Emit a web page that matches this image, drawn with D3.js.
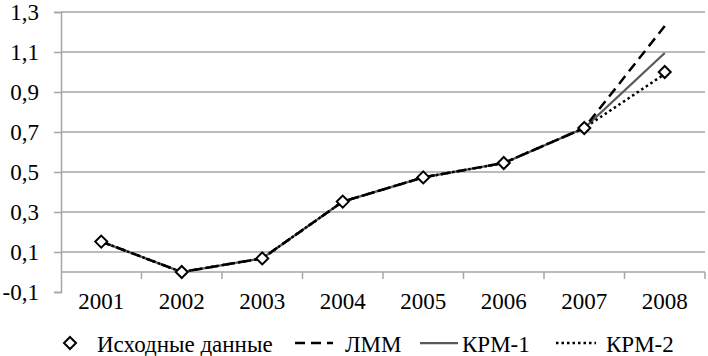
<!DOCTYPE html>
<html><head><meta charset="utf-8">
<script src="https://cdn.jsdelivr.net/npm/d3@7"></script>
<style>body{margin:0;background:#fff}svg{display:block}text{font-family:"Times New Roman","Liberation Serif",serif}</style>
</head><body>
<svg id="c" width="708" height="356"></svg>
<script>
const years = ["2001","2002","2003","2004","2005","2006","2007","2008"];
const dataVals = [0.152, 0.0, 0.068, 0.352, 0.473, 0.545, 0.72, 1.0];
const lmmVals  = [0.152, 0.0, 0.068, 0.352, 0.473, 0.545, 0.72, 1.23];
const krm1Vals = [0.152, 0.0, 0.068, 0.352, 0.473, 0.545, 0.72, 1.095];
const krm2Vals = [0.152, 0.0, 0.068, 0.352, 0.473, 0.545, 0.72, 0.99];
const yTicks = [-0.1, 0.1, 0.3, 0.5, 0.7, 0.9, 1.1, 1.3];
const legendLabels = ["Исходные данные", "ЛММ", "КРМ-1", "КРМ-2"];

const FS = 23;
const svg = d3.select("#c");
const x = d3.scaleBand().domain(years).range([61, 705]);
const y = d3.scaleLinear().domain([-0.1, 1.3]).range([292, 12]);
const fmt = v => d3.format(".1f")(v).replace(".", ",").replace("−","-");

svg.append("g").selectAll("line").data(yTicks.filter(v => v > -0.1)).join("line")
  .attr("x1", 61).attr("x2", 705).attr("y1", d => y(d)).attr("y2", d => y(d))
  .attr("stroke", "#a6a6a6").attr("stroke-width", 1.5);

const ya = svg.append("g").attr("transform", "translate(61,0)")
  .call(d3.axisLeft(y).tickValues(yTicks).tickSize(7).tickPadding(15).tickFormat(fmt));
ya.attr("font-family", null).attr("font-size", null);
ya.select(".domain").attr("stroke", "#a6a6a6").attr("stroke-width", 1.5);
ya.selectAll(".tick line").attr("stroke", "#a6a6a6").attr("stroke-width", 1.5);
ya.selectAll("text").attr("font-size", FS).attr("fill", "#000");

const xa = svg.append("g").attr("transform", `translate(0,${y(0)})`);
xa.append("line").attr("x1", 61).attr("x2", 705).attr("stroke", "#a6a6a6").attr("stroke-width", 1.5);
const bounds = years.map(d => x(d)).concat([x(years[years.length-1]) + x.bandwidth()]);
xa.selectAll("line.t").data(bounds.slice(1)).join("line").attr("class","t")
  .attr("x1", d => d).attr("x2", d => d).attr("y1", 0).attr("y2", 7)
  .attr("stroke", "#a6a6a6").attr("stroke-width", 1.5);
svg.append("g").selectAll("text").data(years).join("text")
  .attr("x", d => x(d) + x.bandwidth()/2).attr("y", 309)
  .attr("text-anchor", "middle").attr("font-size", FS).text(d => d);

const line = d3.line().x((d,i) => x(years[i]) + x.bandwidth()/2).y(d => y(d));
svg.append("path").datum(krm1Vals).attr("d", line).attr("fill","none")
  .attr("stroke","#595959").attr("stroke-width",2.25);
svg.append("path").datum(lmmVals).attr("d", line).attr("fill","none")
  .attr("stroke","#000").attr("stroke-width",2.5).attr("stroke-dasharray","10,6");
svg.append("path").datum(krm2Vals).attr("d", line).attr("fill","none")
  .attr("stroke","#000").attr("stroke-width",2.5).attr("stroke-dasharray","2.5,3");

const diamond = (cx, cy) => `M${cx},${cy-6}L${cx+6},${cy}L${cx},${cy+6}L${cx-6},${cy}Z`;
svg.append("g").selectAll("path").data(dataVals).join("path")
  .attr("d", (d,i) => diamond(x(years[i]) + x.bandwidth()/2, y(d)))
  .attr("fill","#fff").attr("stroke","#000").attr("stroke-width",2);

const ly = 343, tb = 352;
const lg = svg.append("g");
lg.append("path").attr("d", diamond(70, ly)).attr("fill","#fff").attr("stroke","#000").attr("stroke-width",2);
lg.append("text").attr("x", 97).attr("y", tb).attr("font-size", FS).text(legendLabels[0]);
lg.append("line").attr("x1",295).attr("x2",333).attr("y1",ly).attr("y2",ly)
  .attr("stroke","#000").attr("stroke-width",2.5).attr("stroke-dasharray","10,6");
lg.append("text").attr("x", 345).attr("y", tb).attr("font-size", FS).text(legendLabels[1]);
lg.append("line").attr("x1",420).attr("x2",458).attr("y1",ly).attr("y2",ly)
  .attr("stroke","#595959").attr("stroke-width",2.25);
lg.append("text").attr("x", 462).attr("y", tb).attr("font-size", FS).text(legendLabels[2]);
lg.append("line").attr("x1",556).attr("x2",596).attr("y1",ly).attr("y2",ly)
  .attr("stroke","#000").attr("stroke-width",2.5).attr("stroke-dasharray","2.5,3");
lg.append("text").attr("x", 606).attr("y", tb).attr("font-size", FS).text(legendLabels[3]);
</script>
</body></html>
